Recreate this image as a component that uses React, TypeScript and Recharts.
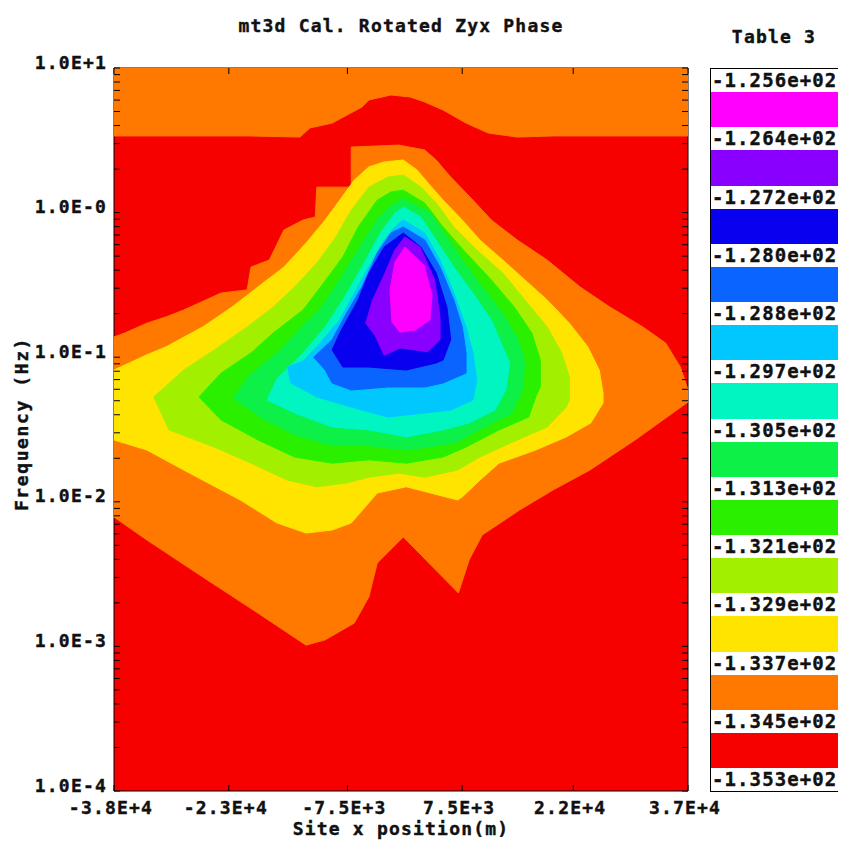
import { ComposedChart, Scatter, XAxis, YAxis, CartesianGrid } from "recharts";

// site x position (m), frequency (Hz) outlines of each phase band, outermost first
const TOP_BAND: [number, number][] = [
  [-38000, 3.39], [-20600, 3.39], [-13700, 3.33], [-12400, 3.85], [-9500, 4.16], [-5600, 5.37],
  [-4700, 6.01], [-1800, 6.51], [700, 6.3], [2600, 5.82], [5000, 5.12], [8000, 4.16],
  [10900, 3.55], [14700, 3.33], [19500, 3.39], [37000, 3.39], [37000, 10], [-38000, 10],
];

const ORANGE: [number, number][] = [
  [-7000, 2.84], [-800, 2.93], [2600, 2.71], [4100, 2.31], [6000, 1.76], [8900, 1.22],
  [11300, 0.889], [14700, 0.646], [18600, 0.47], [22900, 0.306], [26800, 0.222], [31100, 0.162],
  [34100, 0.125], [36000, 0.0855], [37000, 0.0593], [37000, 0.049], [30100, 0.0268], [24200, 0.0166],
  [19400, 0.0121], [15000, 0.00878], [10100, 0.00589], [8400, 0.00396], [7000, 0.00234],
  [-200, 0.00571], [-3600, 0.00377], [-4700, 0.0022], [-6600, 0.00145], [-10400, 0.00111],
  [-12900, 0.00102], [-19200, 0.0017], [-26400, 0.00302], [-33700, 0.00544], [-38000, 0.00785],
  [-38000, 0.138], [-36600, 0.147], [-33700, 0.172], [-31200, 0.19], [-28900, 0.212],
  [-24000, 0.278], [-20600, 0.292], [-20100, 0.42], [-17700, 0.47], [-15800, 0.758],
  [-13300, 0.889], [-11700, 0.932], [-11500, 1.5], [-7000, 1.5],
];

const YELLOW: [number, number][] = [
  [-200, 2.31], [1600, 1.97], [3500, 1.5], [5000, 1.22], [7500, 0.889], [9800, 0.646],
  [12800, 0.47], [15700, 0.342], [18600, 0.249], [21500, 0.172], [23900, 0.118], [25400, 0.0815],
  [25900, 0.0565], [25900, 0.0482], [24300, 0.0351], [21100, 0.0281], [17100, 0.0228],
  [12300, 0.0185], [9800, 0.0141], [7500, 0.0108], [6900, 0.0103], [200, 0.0127], [-3600, 0.0115],
  [-7000, 0.00714], [-9500, 0.00638], [-12900, 0.00608], [-16700, 0.00714], [-21500, 0.0103],
  [-28900, 0.0166], [-33700, 0.0228], [-38000, 0.0268], [-38000, 0.0815], [-33700, 0.104],
  [-31200, 0.118], [-26400, 0.162], [-22600, 0.222], [-19200, 0.306], [-15800, 0.42],
  [-12900, 0.616], [-10400, 0.889], [-8500, 1.22], [-6600, 1.68], [-4700, 2.07], [-2700, 2.24],
];

const YELLOW_GREEN: [number, number][] = [
  [-200, 1.82], [2100, 1.5], [4100, 1.165], [6400, 0.795], [9400, 0.551], [12800, 0.382],
  [15700, 0.249], [18600, 0.162], [20500, 0.107], [21500, 0.073], [21500, 0.0506], [21100, 0.0452],
  [18600, 0.0329], [14700, 0.0268], [9800, 0.0204], [6900, 0.0166], [2600, 0.0148], [-800, 0.0158],
  [-4700, 0.0148], [-7600, 0.0135], [-11500, 0.0127], [-15300, 0.0141], [-20100, 0.0185],
  [-24900, 0.0239], [-30800, 0.0314], [-32800, 0.0531], [-28900, 0.0815], [-24900, 0.112],
  [-20600, 0.162], [-17200, 0.222], [-14400, 0.306], [-11500, 0.448], [-9000, 0.678],
  [-7000, 1.04], [-4700, 1.5], [-2200, 1.76],
];

const GREEN: [number, number][] = [
  [-200, 1.43], [2600, 1.165], [5000, 0.795], [8000, 0.526], [11300, 0.342], [14300, 0.222],
  [16600, 0.147], [17700, 0.0956], [17700, 0.0622], [17100, 0.0531], [16200, 0.0386],
  [12300, 0.0314], [8000, 0.0239], [5000, 0.0204], [200, 0.0185], [-4700, 0.0195], [-9500, 0.0185],
  [-14400, 0.0204], [-19200, 0.0268], [-24000, 0.0368], [-26900, 0.0531], [-24000, 0.0777],
  [-20100, 0.107], [-17200, 0.147], [-13300, 0.212], [-11000, 0.306], [-8100, 0.493],
  [-6100, 0.795], [-3600, 1.22], [-1800, 1.39],
];

const GREEN_2: [number, number][] = [
  [-200, 1.25], [3300, 1.0], [5400, 0.69], [7500, 0.47], [10100, 0.306], [12800, 0.2],
  [14800, 0.132], [15700, 0.093], [15300, 0.059], [14000, 0.041], [10400, 0.033], [6600, 0.0255],
  [200, 0.0228], [-4700, 0.0245], [-9500, 0.0245], [-14400, 0.029], [-18700, 0.038],
  [-22400, 0.052], [-20400, 0.074], [-16700, 0.107], [-13800, 0.154], [-10700, 0.229],
  [-8300, 0.359], [-5900, 0.578], [-3500, 0.91], [-1500, 1.15],
];

const AQUA: [number, number][] = [
  [-200, 1.093], [2100, 0.932], [4100, 0.646], [6400, 0.42], [8900, 0.278], [11300, 0.181],
  [12800, 0.118], [13700, 0.0912], [13200, 0.0593], [11800, 0.0431], [8400, 0.0351], [5000, 0.0314],
  [200, 0.0281], [-4700, 0.0314], [-9500, 0.0329], [-14400, 0.0411], [-18000, 0.0506],
  [-16700, 0.0713], [-13300, 0.107], [-10400, 0.162], [-8100, 0.249], [-5600, 0.42],
  [-3200, 0.723], [-1300, 0.994],
];

const LIGHT_BLUE: [number, number][] = [
  [-200, 0.889], [2600, 0.723], [4600, 0.47], [6400, 0.278], [8000, 0.162], [8900, 0.107],
  [9400, 0.0696], [8900, 0.0506], [6000, 0.0431], [2600, 0.0411], [-2200, 0.0386], [-7000, 0.0452],
  [-11500, 0.0531], [-14900, 0.0663], [-15300, 0.0855], [-13300, 0.094], [-11500, 0.118],
  [-8500, 0.181], [-6600, 0.278], [-4700, 0.42], [-2700, 0.646], [-1300, 0.795],
];

const MID_BLUE: [number, number][] = [
  [-200, 0.795], [2600, 0.646], [4600, 0.42], [6400, 0.249], [7500, 0.162], [8000, 0.107],
  [8000, 0.0777], [5000, 0.0663], [2600, 0.0622], [-2200, 0.0622], [-7000, 0.0593], [-9500, 0.0663],
  [-10400, 0.0815], [-11900, 0.1], [-9500, 0.132], [-7600, 0.202], [-5600, 0.306], [-3600, 0.526],
  [-1800, 0.723],
];

const DARK_BLUE: [number, number][] = [
  [-200, 0.723], [2100, 0.578], [4100, 0.382], [5500, 0.222], [6000, 0.132], [5000, 0.0956],
  [4100, 0.0912], [200, 0.0815], [-4700, 0.0855], [-8100, 0.0855], [-9500, 0.112], [-8500, 0.147],
  [-6100, 0.249], [-4700, 0.382], [-2700, 0.578],
];

const PURPLE: [number, number][] = [
  [0, 0.678], [2000, 0.578], [3900, 0.342], [4600, 0.19], [4600, 0.132], [3000, 0.109],
  [-600, 0.116], [-2700, 0.103], [-3900, 0.142], [-5100, 0.172], [-4200, 0.249], [-2700, 0.37],
  [-1300, 0.551],
];

const MAGENTA: [number, number][] = [
  [20, 0.578], [2500, 0.434], [3550, 0.269], [3290, 0.181], [1330, 0.154], [-630, 0.149],
  [-1680, 0.175], [-1940, 0.292], [-1285, 0.455],
];

// legend, top to bottom
const LEVELS = [
  "-1.256e+02", "-1.264e+02", "-1.272e+02", "-1.280e+02", "-1.288e+02", "-1.297e+02", "-1.305e+02",
  "-1.313e+02", "-1.321e+02", "-1.329e+02", "-1.337e+02", "-1.345e+02", "-1.353e+02",
];
const LEVEL_COLORS = [
  "#ff00ff", "#8a00ff", "#0a00f0", "#0a64ff", "#00c8ff", "#00f5c0", "#0cf048",
  "#2af000", "#a2f000", "#ffe400", "#ff7800", "#f70000",
];
const C = {
  magenta: LEVEL_COLORS[0], purple: LEVEL_COLORS[1], darkBlue: LEVEL_COLORS[2], midBlue: LEVEL_COLORS[3],
  lightBlue: LEVEL_COLORS[4], aqua: LEVEL_COLORS[5], green2: LEVEL_COLORS[6], green: LEVEL_COLORS[7],
  yellowGreen: LEVEL_COLORS[8], yellow: LEVEL_COLORS[9], orange: LEVEL_COLORS[10], red: LEVEL_COLORS[11],
};

const REGIONS = [
  { name: "top", pts: TOP_BAND, color: C.orange },
  { name: "orange", pts: ORANGE, color: C.orange },
  { name: "yellow", pts: YELLOW, color: C.yellow },
  { name: "yellowGreen", pts: YELLOW_GREEN, color: C.yellowGreen },
  { name: "green", pts: GREEN, color: C.green },
  { name: "green2", pts: GREEN_2, color: C.green2 },
  { name: "aqua", pts: AQUA, color: C.aqua },
  { name: "lightBlue", pts: LIGHT_BLUE, color: C.lightBlue },
  { name: "midBlue", pts: MID_BLUE, color: C.midBlue },
  { name: "darkBlue", pts: DARK_BLUE, color: C.darkBlue },
  { name: "purple", pts: PURPLE, color: C.purple },
  { name: "magenta", pts: MAGENTA, color: C.magenta },
];

const X_TICKS = [-38000, -23000, -7500, 7500, 22000, 37000];
const X_LABELS = ["-3.8E+4", "-2.3E+4", "-7.5E+3", "7.5E+3", "2.2E+4", "3.7E+4"];
const DECADES = [1e-4, 1e-3, 1e-2, 1e-1, 1, 10];
const DECADE_LABELS = ["1.0E-4", "1.0E-3", "1.0E-2", "1.0E-1", "1.0E-0", "1.0E+1"];
const MINORS = [2, 3, 4, 5, 6, 7, 8, 9];
const Y_TICKS = [...DECADES.slice(0, -1).flatMap((d) => [d, ...MINORS.map((m) => m * d)]), 10];

const FONT = '"DejaVu Sans Mono", monospace';
const TXT = {
  fontFamily: FONT, fontWeight: 700, fontSize: 18, letterSpacing: 1.2,
  fill: "#111", stroke: "#111", strokeWidth: 0.4,
};

function fillShape(color: string) {
  return (props: any) => {
    const pts: { x: number; y: number }[] = props.points ?? [];
    const d = pts.map((p, i) => `${i ? "L" : "M"}${p.x},${p.y}`).join("") + "Z";
    return <path d={d} fill={color} stroke={color} strokeWidth={1} />;
  };
}

function decadeLabel(v: number) {
  const i = DECADES.findIndex((d) => Math.abs(d - v) / d < 1e-6);
  return i < 0 ? null : DECADE_LABELS[i];
}

const LeftTick = ({ x, y, payload }: any) => {
  const lab = decadeLabel(payload.value);
  return (
    <g>
      <line x1={x} x2={x + 6} y1={y} y2={y} stroke="#000" />
      {lab && (
        <text x={x - 7} y={y - 6} textAnchor="end" dominantBaseline="central" style={TXT}>
          {lab}
        </text>
      )}
    </g>
  );
};

const RightTick = ({ x, y }: any) => <line x1={x} x2={x - 6} y1={y} y2={y} stroke="#000" />;

const BottomTick = ({ x, y, payload, index }: any) => (
  <g>
    <line x1={x} x2={x} y1={y} y2={y - 6} stroke="#000" />
    <text x={x - 3} y={y + 16} textAnchor="middle" dominantBaseline="central" style={TXT}>
      {X_LABELS[index] ?? String(payload.value)}
    </text>
  </g>
);

const TopTick = ({ x, y }: any) => <line x1={x} x2={x} y1={y} y2={y + 6} stroke="#000" />;

const htmlText = {
  position: "absolute" as const,
  fontFamily: FONT,
  fontWeight: 700,
  fontSize: 18,
  letterSpacing: 1.2,
  color: "#111",
  WebkitTextStroke: "0.4px #111",
  whiteSpace: "nowrap" as const,
  textAlign: "center" as const,
};

export default function App() {
  return (
    <div style={{ position: "relative", width: 846, height: 850, margin: -8, background: "#fff", overflow: "hidden" }}>
      {/* slide frame */}
      <div style={{ position: "absolute", left: 0, top: 0, width: 846, height: 5, background: "linear-gradient(90deg,#2f5fe0 0%,#2444b4 45%,#2444b4 65%,#3464e4 72%,#3464e4 100%)" }} />
      <div style={{ position: "absolute", left: 0, top: 0, width: 5, height: 850, background: "linear-gradient(180deg,#3062e0 0%,#2448b8 50%,#1a3490 100%)" }} />

      <div style={{ ...htmlText, left: 0, top: 14, width: 802, lineHeight: "24px" }}>mt3d Cal. Rotated Zyx Phase</div>
      <div style={{ ...htmlText, left: 714, top: 25, width: 120, lineHeight: "24px" }}>Table 3</div>
      <div style={{ ...htmlText, left: 401 - 150, top: 817, width: 300, lineHeight: "24px" }}>Site x position(m)</div>
      <div style={{ ...htmlText, left: 22 - 110, top: 424 - 12, width: 220, lineHeight: "24px", transform: "rotate(-90deg)", letterSpacing: 1.6 }}>
        Frequency (Hz)
      </div>

      <div style={{ position: "absolute", left: 0, top: 0 }}>
        <ComposedChart width={846} height={850} margin={{ top: 67, right: 157, bottom: 58, left: 113 }}>
          <CartesianGrid fill={C.red} fillOpacity={1} horizontal={false} vertical={false} stroke="none" />
          {REGIONS.map((r) => (
            <Scatter
              key={r.name}
              xAxisId="b"
              yAxisId="l"
              data={r.pts.map(([x, f]) => ({ x, f }))}
              fill={r.color}
              line={fillShape(r.color)}
              lineType="joint"
              shape={() => <g />}
              legendType="none"
              isAnimationActive={false}
            />
          ))}
          <XAxis xAxisId="b" type="number" dataKey="x" domain={[-38000, 37000]} ticks={X_TICKS} interval={0} height={1}
            tickSize={0} tickMargin={0} tickLine={false} tick={<BottomTick />} axisLine={{ stroke: "#000" }} allowDataOverflow />
          <XAxis xAxisId="t" orientation="top" type="number" dataKey="x" domain={[-38000, 37000]} ticks={X_TICKS} interval={0} height={1}
            tickSize={0} tickMargin={0} tickLine={false} tick={<TopTick />} axisLine={{ stroke: "#000" }} allowDataOverflow />
          <YAxis yAxisId="l" type="number" dataKey="f" scale="log" domain={[1e-4, 10]} ticks={Y_TICKS} interval={0} width={1}
            tickSize={0} tickMargin={0} tickLine={false} tick={<LeftTick />} axisLine={{ stroke: "#000" }} allowDataOverflow />
          <YAxis yAxisId="r" orientation="right" type="number" dataKey="f" scale="log" domain={[1e-4, 10]} ticks={Y_TICKS} interval={0} width={1}
            tickSize={0} tickMargin={0} tickLine={false} tick={<RightTick />} axisLine={{ stroke: "#000" }} allowDataOverflow />
        </ComposedChart>
      </div>

      {/* colour table */}
      <div style={{ position: "absolute", left: 710, top: 68, width: 127, height: 722, border: "1px solid #000", display: "flex", flexDirection: "column", background: "#fff" }}>
        {LEVELS.map((lv, i) => (
          <div key={lv} style={{ display: "contents" }}>
            <div style={{ flex: "0 0 23px", lineHeight: "23px", fontFamily: FONT, fontWeight: 700, fontSize: 19, letterSpacing: 1.1, color: "#111", WebkitTextStroke: "0.4px #111", paddingLeft: 1, whiteSpace: "nowrap", overflow: "hidden" }}>
              {lv}
            </div>
            {i < LEVEL_COLORS.length && <div style={{ flex: "1 1 0", background: LEVEL_COLORS[i] }} />}
          </div>
        ))}
      </div>
    </div>
  );
}
